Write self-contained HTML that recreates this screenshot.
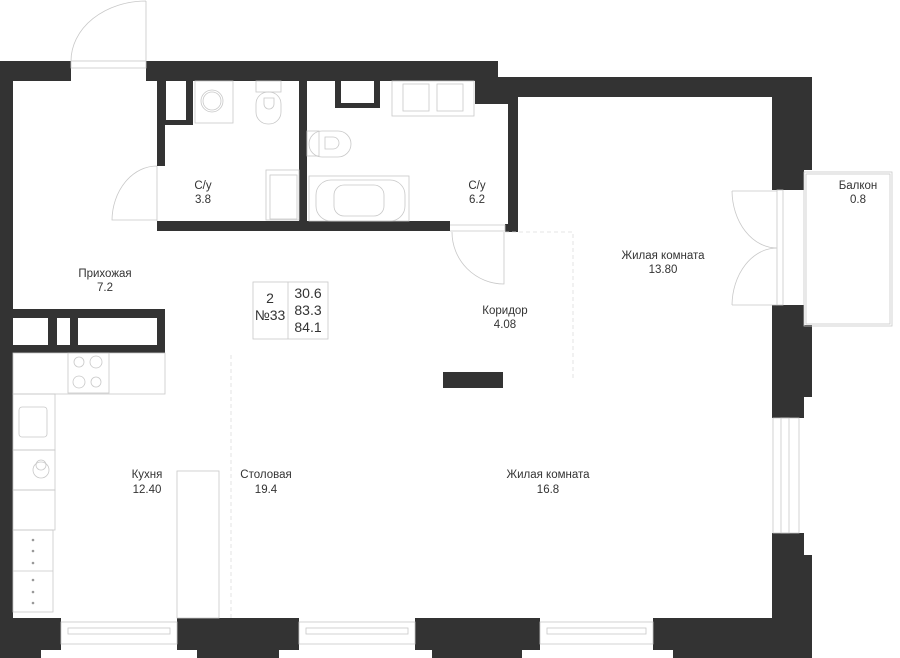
<!DOCTYPE html>
<html><head><meta charset="utf-8"><style>
html,body{margin:0;padding:0;background:#fff;}
svg{display:block}
text{font-family:"Liberation Sans",sans-serif;font-size:11.5px;fill:#333;text-anchor:middle}
</style></head><body>
<svg width="900" height="658" viewBox="0 0 900 658" xmlns="http://www.w3.org/2000/svg">
<g fill="#333">
<rect x="0" y="61" width="71" height="20"/>
<rect x="0" y="61" width="13" height="597"/>
<rect x="146" y="61" width="352" height="20"/>
<rect x="498" y="77" width="314" height="20"/>
<rect x="772" y="77" width="40" height="93"/>
<rect x="772" y="170" width="32" height="20"/>
<rect x="772" y="305" width="32" height="113"/>
<rect x="772" y="325" width="40" height="72"/>
<rect x="772" y="533" width="32" height="30"/>
<rect x="772" y="555" width="40" height="103"/>
<rect x="0" y="618" width="61" height="32"/>
<rect x="0" y="618" width="41" height="40"/>
<rect x="177" y="618" width="122" height="32"/>
<rect x="197" y="618" width="82" height="40"/>
<rect x="415" y="618" width="125" height="32"/>
<rect x="432" y="618" width="90" height="40"/>
<rect x="653" y="618" width="159" height="32"/>
<rect x="673" y="618" width="139" height="40"/>
<rect x="157" y="81" width="8" height="85"/>
<rect x="157" y="221" width="293" height="10"/>
<rect x="299" y="81" width="8" height="150"/>
<rect x="165" y="81" width="28" height="44"/>
<rect x="335" y="81" width="45" height="27"/>
<rect x="475" y="77" width="43" height="27"/>
<rect x="508" y="97" width="10" height="134"/>
<rect x="505" y="224" width="13" height="8"/>
<rect x="13" y="309" width="152" height="44"/>
<rect x="443" y="372" width="60" height="16"/>
</g>
<g fill="#fff">
<rect x="166" y="81" width="20" height="39"/>
<rect x="341" y="81" width="33" height="22"/>
<rect x="13" y="318" width="35" height="27"/>
<rect x="57" y="318" width="13" height="27"/>
<rect x="78" y="318" width="79" height="27"/>
</g>
<g fill="none" stroke="#c8c8c8" stroke-width="0.8">
<rect x="71" y="61" width="75" height="7"/>
<path d="M146 61 L146 1 M146 1 A75 60 0 0 0 71 61"/>
<path d="M157 166 L157 221 M157 166 A45 55 0 0 0 112 220 L157 220"/>
<path d="M450 225 L505 225 L505 231 L450 231 M452 232 A52 52 0 0 0 504 284 L504 232"/>
<rect x="804" y="172" width="88" height="154"/>
<rect x="806" y="174" width="84" height="150"/>
<rect x="777" y="190" width="6" height="115"/>
<path d="M732 191 L777 191 M732 191 A45 58 0 0 0 777 248 M732 305 L777 305 M732 305 A45 58 0 0 1 777 248"/>
<rect x="773" y="418" width="26" height="115"/>
<rect x="781" y="418" width="8" height="115"/>
<rect x="61" y="622" width="116" height="22"/>
<rect x="68" y="628" width="102" height="6"/>
<rect x="299" y="622" width="116" height="22"/>
<rect x="306" y="628" width="102" height="6"/>
<rect x="540" y="622" width="113" height="22"/>
<rect x="547" y="628" width="99" height="6"/>
<rect x="195" y="81" width="38" height="42"/>
<circle cx="212" cy="101" r="11"/><circle cx="212" cy="101" r="9"/>
<rect x="256" y="81" width="25" height="11"/>
<rect x="256" y="92" width="25" height="32" rx="12"/>
<path d="M264 98 h10 v6 a5 5 0 0 1 -10 0 z"/>
<rect x="266" y="170" width="33" height="50"/>
<rect x="270" y="175" width="27" height="44"/>
<rect x="307" y="131" width="12" height="25"/>
<rect x="309" y="131" width="42" height="26" rx="13"/>
<path d="M325 137 h8 a6 6 0 0 1 0 12 h-8 z"/>
<rect x="309" y="176" width="100" height="45"/>
<rect x="316" y="180" width="89" height="41" rx="15"/>
<rect x="334" y="185" width="50" height="31" rx="10"/>
<rect x="392" y="81" width="82" height="35"/>
<rect x="403" y="84" width="26" height="27"/>
<rect x="437" y="84" width="26" height="27"/>
<path d="M505 232 H573 V380" stroke-dasharray="4 3" stroke="#ddd"/>
<path d="M231 355 V618" stroke-dasharray="4 3" stroke="#ddd"/>
<rect x="68" y="353" width="41" height="40"/>
<rect x="13" y="353" width="152" height="41"/>
<circle cx="79" cy="362" r="5"/><circle cx="96" cy="362" r="6"/>
<circle cx="79" cy="382" r="6"/><circle cx="96" cy="382" r="5"/>
<rect x="13" y="394" width="42" height="56"/>
<rect x="19" y="407" width="28" height="30" rx="3"/>
<rect x="13" y="450" width="42" height="40"/>
<circle cx="41" cy="470" r="8"/><circle cx="41" cy="465" r="5"/>
<rect x="13" y="490" width="42" height="40"/>
<rect x="13" y="530" width="40" height="82"/>
<line x1="13" y1="571" x2="53" y2="571"/>
<rect x="177" y="471" width="42" height="147"/>
<rect x="253" y="282" width="75" height="57"/>
<line x1="288" y1="282" x2="288" y2="339"/>
</g>
<g fill="#999">
<circle cx="33" cy="540" r="1.3"/><circle cx="33" cy="551" r="1.3"/><circle cx="33" cy="563" r="1.3"/>
<circle cx="33" cy="580" r="1.3"/><circle cx="33" cy="592" r="1.3"/><circle cx="33" cy="603" r="1.3"/>
</g>
<text x="105" y="277">Прихожая</text><text x="105" y="291">7.2</text>
<text x="203" y="189">С/у</text><text x="203" y="203">3.8</text>
<text x="477" y="189">С/у</text><text x="477" y="203">6.2</text>
<text x="505" y="314">Коридор</text><text x="505" y="328">4.08</text>
<text x="663" y="259">Жилая комната</text><text x="663" y="273">13.80</text>
<text x="858" y="189">Балкон</text><text x="858" y="203">0.8</text>
<text x="147" y="478">Кухня</text><text x="147" y="493">12.40</text>
<text x="266" y="478">Столовая</text><text x="266" y="493">19.4</text>
<text x="548" y="478">Жилая комната</text><text x="548" y="493">16.8</text>
<text x="270" y="303" style="font-size:14px">2</text>
<text x="270" y="320" style="font-size:14px">№33</text>
<text x="308" y="298" style="font-size:14px">30.6</text>
<text x="308" y="315" style="font-size:14px">83.3</text>
<text x="308" y="332" style="font-size:14px">84.1</text>
</svg>
</body></html>
